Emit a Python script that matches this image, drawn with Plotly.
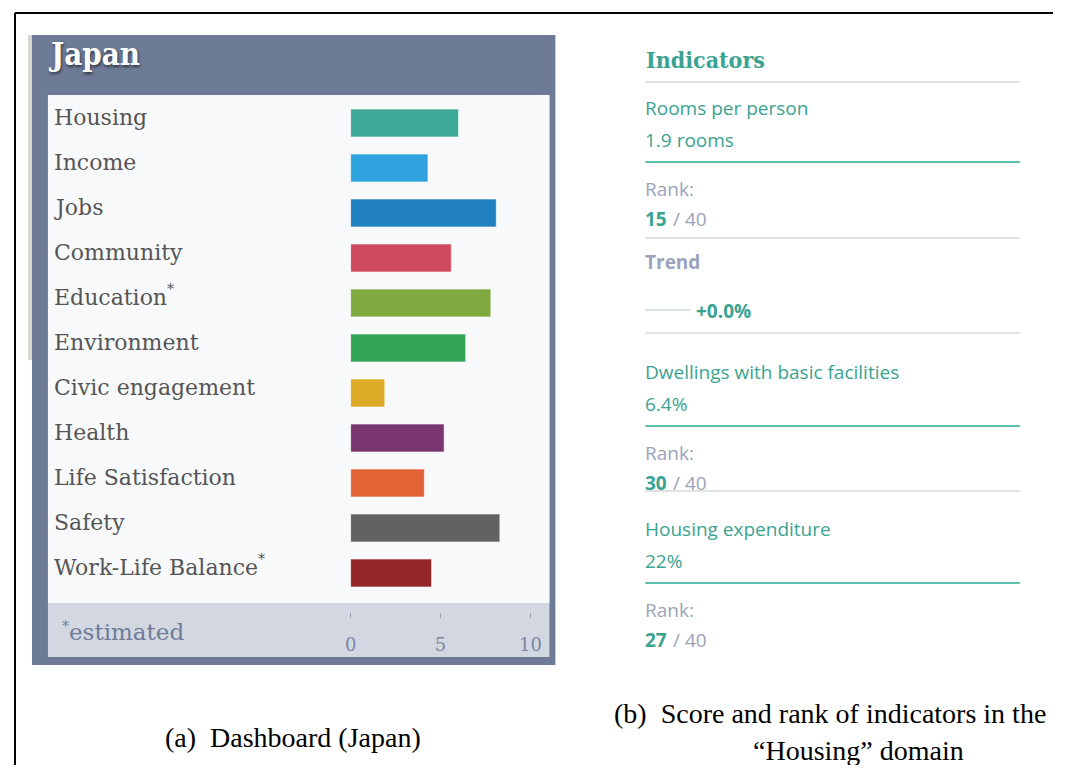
import plotly.graph_objects as go

# figure fills the window inside the page's 8px body margin
FW, FH = 1056, 757
# measured mapping from figure pixels to the photographed page
X0, XS, Y0 = 13.0, 0.985, 8.0

# ---------------- data ----------------
categories = ["Housing", "Income", "Jobs", "Community", "Education", "Environment",
              "Civic engagement", "Health", "Life Satisfaction", "Safety", "Work-Life Balance"]
estimated = ["Education", "Work-Life Balance"]
scores = [6.0, 4.3, 8.1, 5.6, 7.8, 6.4, 1.9, 5.2, 4.1, 8.3, 4.5]
bar_colors = ["#3ea896", "#2ea3e0", "#2180c0", "#cf4a5e", "#80aa40", "#33a656",
              "#dcaa26", "#7a376f", "#e26336", "#616161", "#922628"]
axis_ticks = [0, 5, 10]
country = "Japan"

indicators = ["Rooms per person", "Dwellings with basic facilities", "Housing expenditure"]
indicator_values = ["1.9 rooms", "6.4%", "22%"]
indicator_ranks = [15, 30, 27]
rank_total = 40
trend_value = "+0.0%"

caption_a = "(a)  Dashboard (Japan)"
caption_b1 = "(b)  Score and rank of indicators in the"
caption_b2 = "\u201cHousing\u201d domain"


def px(x):
    return (x - X0) / XS / FW


def py(y):
    return 1 - (y - Y0) / FH


fig = go.Figure()
fig.add_trace(go.Bar(
    x=scores, y=categories, orientation="h",
    marker=dict(color=bar_colors, line=dict(color="rgba(255,255,255,0.55)", width=1)),
    width=0.62, hoverinfo="x+y", showlegend=False,
))

shapes = []
# outer frame
shapes.append(dict(type="line", xref="paper", yref="paper", x0=px(14), x1=1.0, y0=py(13), y1=py(13),
                   line=dict(color="black", width=2)))
shapes.append(dict(type="line", xref="paper", yref="paper", x0=px(14), x1=px(14), y0=py(13), y1=0,
                   line=dict(color="black", width=2)))
# dashboard panel
shapes.append(dict(type="rect", xref="paper", yref="paper", x0=px(27), x1=px(32), y0=py(360), y1=py(35),
                   fillcolor="#d8d6cf", line=dict(width=0), layer="below"))
shapes.append(dict(type="rect", xref="paper", yref="paper", x0=px(31), x1=px(555), y0=py(665), y1=py(35),
                   fillcolor="#6e7b97", line=dict(width=0), layer="below"))
shapes.append(dict(type="rect", xref="paper", yref="paper", x0=px(47), x1=px(549), y0=py(657), y1=py(95),
                   fillcolor="#d2d7e1", line=dict(width=0), layer="below"))
shapes.append(dict(type="rect", xref="paper", yref="paper", x0=px(47), x1=px(549), y0=py(603), y1=py(95),
                   fillcolor="#f8f9fb", line=dict(width=0), layer="below"))

# right panel separators
sep_lines = [(82, "#e2e2e2"), (162, "#5bbfab"), (238, "#e2e2e2"), (333, "#e2e2e2"),
             (426, "#5bbfab"), (491, "#e2e2e2"), (583, "#5bbfab")]
for yy, col in sep_lines:
    shapes.append(dict(type="line", xref="paper", yref="paper", x0=px(645), x1=px(1020), y0=py(yy), y1=py(yy),
                       line=dict(color=col, width=2)))
# trend dotted line
shapes.append(dict(type="line", xref="paper", yref="paper", x0=px(645), x1=px(690), y0=py(310), y1=py(310),
                   line=dict(color="#3aa391", width=1, dash="1px,1px")))

annotations = []


def add_text(text, x, y, size, color, family, xanchor="left", bold=False, shadow=None):
    font = dict(size=size, color=color, family=family, weight="bold" if bold else "normal")
    if shadow:
        font["shadow"] = shadow
    annotations.append(dict(text=text, x=px(x), y=py(y), xref="paper", yref="paper",
                            xanchor=xanchor, yanchor="middle", showarrow=False, font=font))


SERIF = "DejaVu Serif"
SERIF_C = "DejaVu Serif Condensed, DejaVu Serif"
SANS = "Open Sans"
TEAL = "#3aa391"
GRAY = "#9aa3ba"
LABEL = "#555555"

# title
add_text(country, 45, 54, 31, "white", SERIF_C, bold=True, shadow="1px 2px 3px rgba(0,0,0,0.55)")

# category labels (positioned through the y axis)
star_x = {"Education": 164, "Work-Life Balance": 255}
for c in categories:
    annotations.append(dict(text=c, x=px(51), y=c, xref="paper", yref="y",
                            xanchor="left", yanchor="middle", yshift=6, showarrow=False,
                            font=dict(size=22, color=LABEL, family=SERIF)))
for c in estimated:
    annotations.append(dict(text="*", x=px(star_x[c]), y=c, xref="paper", yref="y",
                            xanchor="left", yanchor="middle", yshift=14, showarrow=False,
                            font=dict(size=14, color=LABEL, family=SERIF)))

add_text("*", 59, 626, 14, "#6f7b98", SERIF)
add_text("estimated", 66, 632, 23, "#6f7b98", SERIF)

# right panel
add_text("Indicators", 644, 59, 23, TEAL, SERIF_C, bold=True)
ind_y = [108, 372, 529]
for name, val, rank, y0 in zip(indicators, indicator_values, indicator_ranks, ind_y):
    add_text(name, 643, y0, 19, TEAL, SANS)
    add_text(val, 643, y0 + 32, 19, TEAL, SANS)
    add_text("Rank:", 643, y0 + 81, 19, GRAY, SANS)
    add_text(str(rank), 643, y0 + 111, 19, TEAL, SANS, bold=True)
    add_text("/ %d" % rank_total, 671, y0 + 111, 19, GRAY, SANS)
add_text("Trend", 643, 262, 19, GRAY, SANS, bold=True)
add_text(trend_value, 694, 311, 19, TEAL, SANS, bold=True)

# captions
CAP = "Liberation Serif"
add_text(caption_a, 292, 737, 28, "black", CAP, xanchor="center")
add_text(caption_b1, 830, 713, 28, "black", CAP, xanchor="center")
add_text(caption_b2, 858, 750, 28, "black", CAP, xanchor="center")

fig.update_layout(
    width=FW, height=FH,
    margin=dict(l=0, r=0, t=0, b=0),
    paper_bgcolor="white", plot_bgcolor="rgba(0,0,0,0)",
    shapes=shapes, annotations=annotations,
    xaxis=dict(domain=[px(350), px(530)], range=[0, 10], tickvals=axis_ticks,
               anchor="free", position=py(612), showgrid=False, zeroline=False, showline=False,
               ticks="outside", ticklen=5, tickwidth=1, tickcolor="#9aa2b8",
               ticklabelstandoff=11,
               tickfont=dict(family=SERIF, size=18, color="#7d87a2"), fixedrange=True),
    yaxis=dict(domain=[py(595.5), py(100.5)], range=[10.5, -0.5], type="category",
               categoryorder="array", categoryarray=categories,
               showticklabels=False, showgrid=False, zeroline=False, showline=False, fixedrange=True),
)

fig.write_html("out.html")
